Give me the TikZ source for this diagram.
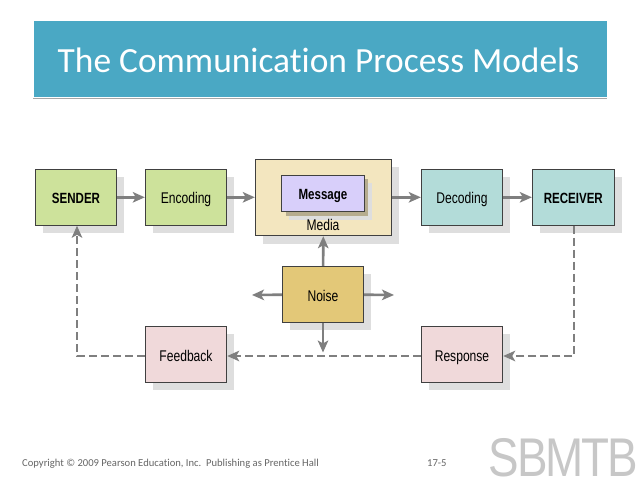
\documentclass[tikz,border=0pt]{standalone}
\usepackage{fontspec}
\setmainfont[Ligatures=NoCommon]{Carlito}
\newfontfamily\labelfont[FakeStretch=0.78]{Liberation Sans}
\newfontfamily\logofont[FakeStretch=0.84,LetterSpace=-4]{Liberation Sans}
\usetikzlibrary{arrows.meta,shadows}
\definecolor{bandblue}{HTML}{4AA8C4}
\definecolor{boxgreen}{HTML}{CDE29B}
\definecolor{boxteal}{HTML}{B3DCD9}
\definecolor{boxpink}{HTML}{F0D9DA}
\definecolor{boxmedia}{HTML}{F3E6BF}
\definecolor{boxmessage}{HTML}{D8CFFA}
\definecolor{boxnoise}{HTML}{E3C878}
\definecolor{linegray}{HTML}{7F7F7F}
\tikzset{
  procbox/.style={draw=black!75,line width=0.9pt,inner sep=0pt,minimum width=81.5pt,minimum height=56pt,
    font=\labelfont\fontsize{15.5}{17}\selectfont,text height=12pt,text depth=0pt,
    drop shadow={shadow xshift=7.5pt,shadow yshift=-8pt,fill=black!13,opacity=1}},
  boldbox/.style={procbox,font=\labelfont\bfseries\fontsize{14.8}{17}\selectfont},
  lowtext/.style={text height=13.4pt},
  link/.style={draw=linegray,line width=2.6pt,-{Stealth[length=12pt,width=10.5pt,inset=3pt]}},
  dashlink/.style={link,dash pattern=on 8pt off 4pt},
}
\begin{document}
\begin{tikzpicture}[x=1pt,y=-1pt]
  \useasboundingbox[fill=white] (0,0) rectangle (638,479);

  % title band
  \node[fill=bandblue,draw=white,line width=1pt,minimum width=574pt,minimum height=77pt,inner sep=0pt,
    drop shadow={shadow xshift=0pt,shadow yshift=-2pt,fill=black!35,opacity=1}] (band) at (320,58.5) {};
  \node[text=white,font=\fontsize{35.4}{40}\selectfont] (title) at (318.5,60) {The Communication Process Models};

  % boxes
  \node[boldbox,fill=boxgreen] (sender) at (76,197.3) {SENDER};
  \node[procbox,fill=boxgreen] (encoding) at (186,197.3) {Encoding};
  \node[procbox,fill=boxmedia,minimum width=136.5pt,minimum height=76.5pt] (media) at (323.5,197.5) {};
  \node[boldbox,fill=boxmessage,minimum width=82.5pt,minimum height=36.5pt,
    drop shadow={shadow xshift=4pt,shadow yshift=-4pt,fill=black!25!boxmedia,opacity=1}] (message) at (323,193.5) {Message};
  \node[font=\labelfont\fontsize{15.5}{17}\selectfont,inner sep=0pt,text height=12pt,text depth=0pt] (medialabel) at (323,224.5) {Media};
  \node[procbox,fill=boxteal] (decoding) at (462,197.3) {Decoding};
  \node[boldbox,fill=boxteal,minimum width=82pt] (receiver) at (573.3,197.3) {RECEIVER};
  \node[procbox,lowtext,fill=boxnoise] (noise) at (323,294.3) {Noise};
  \node[procbox,lowtext,fill=boxpink] (feedback) at (186,354.3) {Feedback};
  \node[procbox,lowtext,fill=boxpink] (response) at (462,354.3) {Response};

  % free ends and corners
  \coordinate (noiseleft) at (252,295);
  \coordinate (noiseright) at (394,295);
  \coordinate (noisedown) at (323,352.5);
  \coordinate (backcorner) at (77,356);
  \coordinate (rescorner) at (574,356);

  % arrows
  \draw[link] (sender) -- (encoding);
  \draw[link] (encoding) -- (encoding -| media.west);
  \draw[link] (media.east |- decoding) -- (decoding);
  \draw[link] (decoding) -- (receiver);
  \draw[link] (noise) -- (media);
  \draw[link] (noise) -- (noiseleft);
  \draw[link] (noise) -- (noiseright);
  \draw[link] (noise) -- (noisedown);
  \draw[dashlink] (receiver.south -| rescorner) -- (rescorner) -- (response.east |- rescorner);
  \draw[dashlink] (response.west |- rescorner) -- (feedback.east |- rescorner);
  \draw[dashlink] (feedback.west |- backcorner) -- (backcorner) -- (backcorner |- sender.south);

  % footer
  \node[anchor=base west,text=black!60,font=\fontsize{10.6}{12}\selectfont,inner sep=0pt] (copyright) at (22,466) {Copyright © 2009 Pearson Education, Inc.\ \ Publishing as Prentice Hall};
  \node[anchor=base west,text=black!60,font=\fontsize{10.6}{12}\selectfont,inner sep=0pt] (pagenum) at (427,466) {17-5};
  \node[anchor=base east,text=black!22,font=\logofont\fontsize{54.5}{56}\selectfont,inner sep=0pt,text height=39pt,text depth=0pt] (logo) at (638,476.5) {SBMTB};
\end{tikzpicture}
\end{document}
